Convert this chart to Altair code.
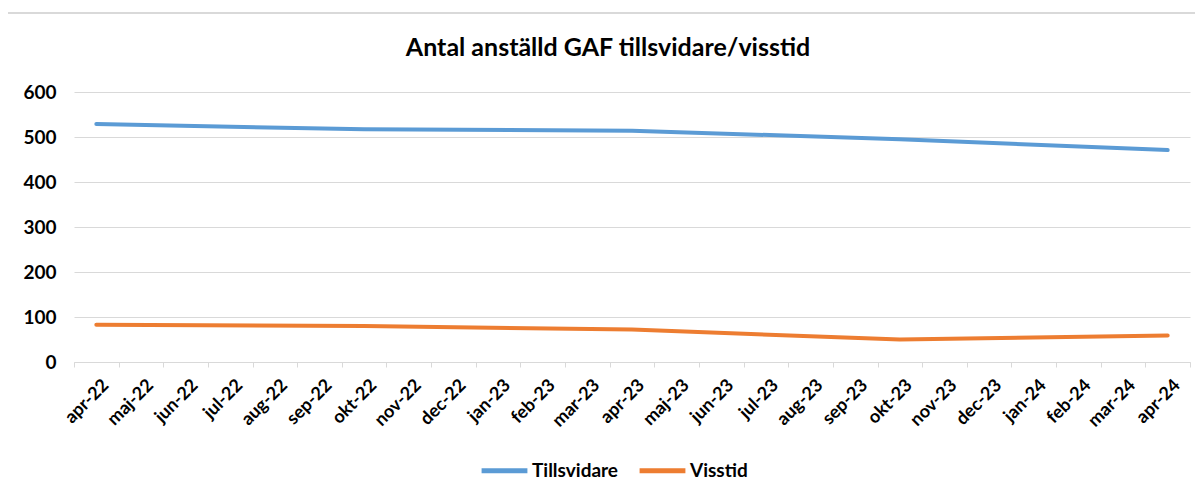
import altair as alt
import pandas as pd

months = ["apr-22", "maj-22", "jun-22", "jul-22", "aug-22", "sep-22", "okt-22",
          "nov-22", "dec-22", "jan-23", "feb-23", "mar-23", "apr-23", "maj-23",
          "jun-23", "jul-23", "aug-23", "sep-23", "okt-23", "nov-23", "dec-23",
          "jan-24", "feb-24", "mar-24", "apr-24"]
point_months = ["apr-22", "okt-22", "apr-23", "okt-23", "apr-24"]
tillsvidare = [529, 517, 514, 495, 471]
visstid = [83, 80, 72, 50, 59]
series_names = ["Tillsvidare", "Visstid"]
colors = ["#5B9BD5", "#ED7D31"]
y_ticks = [0, 100, 200, 300, 400, 500, 600]
title_text = "Antal anställd GAF tillsvidare/visstid"

df = pd.DataFrame({
    "month": point_months + point_months,
    "value": tillsvidare + visstid,
    "serie": [series_names[0]] * len(tillsvidare) + [series_names[1]] * len(visstid),
})

FONT = "Lato"

lines = alt.Chart(df).mark_line(
    strokeWidth=4, strokeCap="round", strokeJoin="round"
).encode(
    x=alt.X("month:N", sort=months,
            scale=alt.Scale(type="band", domain=months, paddingInner=0, paddingOuter=0),
            axis=alt.Axis(title=None, labelAngle=-45, labelFont=FONT, labelFontWeight="bold",
                          labelFontSize=18, labelColor="#000000", domainColor="#D9D9D9",
                          tickColor="#D9D9D9", tickSize=5, tickBand="extent", grid=False,
                          labelPadding=9, labelOffset=3)),
    y=alt.Y("value:Q", scale=alt.Scale(domain=[0, 600]),
            axis=alt.Axis(values=y_ticks, title=None, domain=False, ticks=False,
                          labelPadding=18, labelFont=FONT, labelFontWeight="bold",
                          labelFontSize=19, labelColor="#000000", gridColor="#D9D9D9")),
    color=alt.Color("serie:N",
                    scale=alt.Scale(domain=series_names, range=colors),
                    legend=alt.Legend(title=None, orient="none", legendX=405, legendY=353,
                                      direction="horizontal", symbolType="stroke",
                                      symbolSize=2100, symbolStrokeWidth=5,
                                      labelFont=FONT, labelFontWeight="bold",
                                      labelFontSize=19, labelColor="#000000",
                                      columnPadding=10, labelOffset=2)),
)

frame_src = pd.DataFrame({"k": [0]})
frame = alt.Chart(frame_src).mark_rect(
    fill="transparent", stroke="#D9D9D9", strokeWidth=2
).encode(
    x=alt.value(-69), x2=alt.value(1170), y=alt.value(-79), y2=alt.value(460))

chart = alt.layer(frame, lines).properties(
    width=1116,
    height=270,
    title=alt.TitleParams(title_text, font=FONT, fontSize=25, fontWeight="bold",
                          color="#000000", dx=-24, dy=71, offset=22),
    autosize=alt.AutoSizeParams(type="none"),
    padding={"left": 66, "top": 84, "right": 5, "bottom": 132},
).configure_view(stroke=None)

chart.save("out.html", embed_options={"renderer": "svg", "actions": False})
